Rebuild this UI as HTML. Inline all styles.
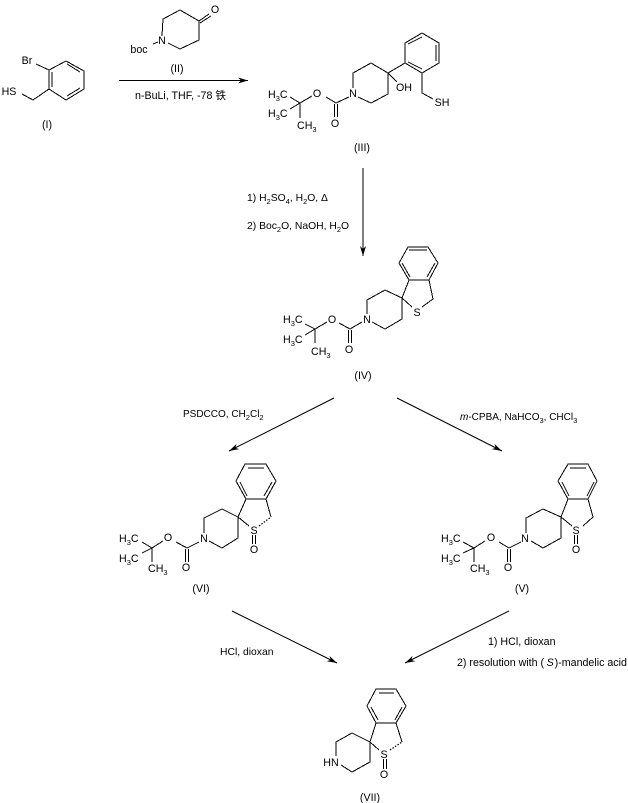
<!DOCTYPE html>
<html><head><meta charset="utf-8"><style>
html,body{margin:0;padding:0;background:#fff}
svg{display:block}
text{font-family:"Liberation Sans","Noto Sans CJK SC",sans-serif;font-size:10.67px;fill:#000}
.m{text-anchor:middle}
.s{font-size:7.5px}
.r{font-size:10.35px}
.q{font-size:10px}
.b{fill:none;stroke:#000;stroke-width:1;shape-rendering:crispEdges}
.a{stroke:#000;stroke-width:1;fill:none}
</style></head><body>
<svg width="628" height="803" viewBox="0 0 628 803" xmlns="http://www.w3.org/2000/svg">
<defs><marker id="h" markerUnits="userSpaceOnUse" markerWidth="11" markerHeight="7" refX="10" refY="3" orient="auto" viewBox="0 0 11 6"><path d="M10,3 L0,0 L3,3 L0,6 Z" fill="#000"/></marker></defs>

<!-- I -->
<path class="b" d="M66,61 L84,71 L84,89 L66,100 L49,89 L49,70 Z M52,72 L52,87 M67,64 L80,72 M67,96 L80,88 M36,64 L49,70 M49,89 L33,100 L22,94"/>
<text class="m" x="27" y="64">Br</text><text class="m" x="9" y="95">HS</text><text class="m" x="47" y="128">(I)</text>

<!-- II -->
<path class="b" d="M162,36 L163,19 L180,10 L199,21 L199,40 L180,49 L168,43 M153,44 L158,42 M199,21 L209,14 M200,23 L211,16"/>
<text class="m" x="162" y="44">N</text><text class="m" x="215" y="13">O</text><text class="m" x="139" y="53">boc</text><text class="m" x="177" y="72">(II)</text>

<!-- arrow 1 -->
<line class="a" x1="119" y1="80.5" x2="248" y2="80.5" marker-end="url(#h)"/>
<text x="135" y="99">n-BuLi, THF, -78 铁</text>

<!-- III -->
<path class="b" d="M422,33 L439,43 L439,63 L422,73 L405,63 L405,43 Z M408,44 L422,37 M436,45 L436,61 M408,62 L422,69 M388,73 L405,63 M388,73 L371,63 L353,73 L353,88 M358,97 L371,103 L388,94 L388,73 M388,73 L397,82 M422,73 L422,93 L433,99 M336,103 L349,97 M334.5,104 L334.5,117 M337.5,104 L337.5,117 M336,103 L326,97 M312,96 L300,103 L290,97 M300,103 L290,109 M300,103 L300,118"/>
<text class="m" x="353" y="97">N</text><text class="m" x="404" y="91">OH</text><text class="m" x="442" y="106">SH</text><text class="m" x="317" y="97">O</text><text class="m" x="335" y="127">O</text>
<text x="268" y="98">H<tspan class="s" dy="3">3</tspan><tspan dy="-3">C</tspan></text>
<text x="268" y="117">H<tspan class="s" dy="3">3</tspan><tspan dy="-3">C</tspan></text>
<text x="297" y="129">CH<tspan class="s" dy="3">3</tspan></text>
<text class="m" x="362" y="151">(III)</text>

<!-- arrow 2 -->
<line class="a" x1="363" y1="168" x2="363" y2="256" marker-end="url(#h)"/>
<text class="r" x="247" y="201">1) H<tspan class="s" dy="3">2</tspan><tspan dy="-3">SO</tspan><tspan class="s" dy="3">4</tspan><tspan dy="-3">, H</tspan><tspan class="s" dy="3">2</tspan><tspan dy="-3">O, Δ</tspan></text>
<text class="r" x="247" y="229">2) Boc<tspan class="s" dy="3">2</tspan><tspan dy="-3">O, NaOH, H</tspan><tspan class="s" dy="3">2</tspan><tspan dy="-3">O</tspan></text>

<!-- IV -->
<path class="b" d="M408,247 L428,247 L438,263 L429,280 L409,280 L399,263 Z M409,250 L427,250 M402,263 L410,277 M435,263 L427,277 M409,280 L402,298 L385,290 L367,300 L367,314 M372,322 L385,329 L402,319 L402,298 M402,298 L412,307 M429,280 L433,299 L422,307 M350,329 L362,322 M348.5,330 L348.5,343 M351.5,330 L351.5,343 M350,329 L339,323 M327,322 L315,329 L305,324 M315,329 L305,335 M315,329 L315,343"/>
<text class="m" x="367" y="323">N</text><text class="m" x="417" y="316">S</text><text class="m" x="332" y="323">O</text><text class="m" x="349" y="353">O</text>
<text x="283" y="323">H<tspan class="s" dy="3">3</tspan><tspan dy="-3">C</tspan></text>
<text x="283" y="343">H<tspan class="s" dy="3">3</tspan><tspan dy="-3">C</tspan></text>
<text x="311" y="355">CH<tspan class="s" dy="3">3</tspan></text>
<text class="m" x="363" y="379">(IV)</text>

<!-- arrows 3,4 -->
<line class="a" x1="334" y1="398" x2="229" y2="451" marker-end="url(#h)"/>
<line class="a" x1="397" y1="398" x2="502" y2="451" marker-end="url(#h)"/>
<text class="q" x="183" y="417">PSDCCO, CH<tspan class="s" dy="3">2</tspan><tspan dy="-3">Cl</tspan><tspan class="s" dy="3">2</tspan></text>
<text class="q" x="460" y="420"><tspan font-style="italic">m</tspan>-CPBA, NaHCO<tspan class="s" dy="3">3</tspan><tspan dy="-3">, CHCl</tspan><tspan class="s" dy="3">3</tspan></text>

<!-- VI -->
<path class="b" d="M245,464 L266,464 L276,481 L266,499 L246,499 L236,481 Z M248,468 L264,468 M240,482 L247,496 M272,482 L264,496 M246,499 L238,517 L222,509 L204,518 L204,533 M209,541 L222,548 L238,538 L238,517 M238,517 L249,526 M266,499 L271,517 M252.5,535 L252.5,544 M255.5,535 L255.5,544 M187,548 L199,542 M185.5,549 L185.5,562 M188.5,549 L188.5,562 M187,548 L176,542 M163,541 L152,548 L142,542 M152,548 L142,553 M152,548 L152,562"/>
<line x1="259" y1="526" x2="271" y2="517" stroke="#000" stroke-width="1.2" stroke-dasharray="1.5 1.5"/>
<text class="m" x="204" y="542">N</text><text class="m" x="254" y="534">S</text><text class="m" x="254" y="553">O</text><text class="m" x="168" y="541">O</text><text class="m" x="186" y="571">O</text>
<text x="119" y="542">H<tspan class="s" dy="3">3</tspan><tspan dy="-3">C</tspan></text>
<text x="119" y="562">H<tspan class="s" dy="3">3</tspan><tspan dy="-3">C</tspan></text>
<text x="148" y="572">CH<tspan class="s" dy="3">3</tspan></text>
<text class="m" x="201" y="592">(VI)</text>

<!-- V -->
<path class="b" d="M568,464 L588,464 L597,481 L588,499 L568,499 L558,481 Z M570,468 L586,468 M562,482 L569,496 M594,482 L587,496 M568,499 L561,517 L543,509 L526,518 L526,533 M531,541 L543,548 L561,538 L561,517 M561,517 L572,526 M588,499 L593,517 L583,526 M574.5,535 L574.5,544 M577.5,535 L577.5,544 M509,548 L521,542 M507.5,549 L507.5,562 M510.5,549 L510.5,562 M509,548 L499,542 M485,541 L474,548 L463,542 M474,548 L463,553 M474,548 L474,562"/>
<text class="m" x="525" y="542">N</text><text class="m" x="576" y="534">S</text><text class="m" x="576" y="553">O</text><text class="m" x="491" y="541">O</text><text class="m" x="508" y="571">O</text>
<text x="441" y="542">H<tspan class="s" dy="3">3</tspan><tspan dy="-3">C</tspan></text>
<text x="441" y="562">H<tspan class="s" dy="3">3</tspan><tspan dy="-3">C</tspan></text>
<text x="470" y="572">CH<tspan class="s" dy="3">3</tspan></text>
<text class="m" x="522" y="592">(V)</text>

<!-- arrows 5,6 -->
<line class="a" x1="232" y1="611" x2="337" y2="663" marker-end="url(#h)"/>
<line class="a" x1="509" y1="611" x2="405" y2="663" marker-end="url(#h)"/>
<text class="r" x="220" y="655">HCl, dioxan</text>
<text x="488" y="645">1) HCl, dioxan</text>
<text x="457" y="666">2) resolution with (<tspan dx="2.5" font-style="italic">S</tspan><tspan dx="1">)-mandelic acid</tspan></text>

<!-- VII -->
<path class="b" d="M376,689 L396,689 L406,706 L396,723 L376,723 L367,706 Z M379,693 L394,693 M371,707 L378,720 M402,707 L395,720 M376,723 L370,742 L352,733 L336,742 L336,756 M341,765 L352,772 L370,762 L370,742 M370,742 L379,750 M396,723 L402,742 M383.5,759 L383.5,769 M386.5,759 L386.5,769"/>
<line x1="390" y1="750" x2="402" y2="742" stroke="#000" stroke-width="1.2" stroke-dasharray="1.5 1.5"/>
<text class="m" x="331" y="766">HN</text><text class="m" x="384" y="758">S</text><text class="m" x="384" y="778">O</text>
<text class="m" x="370" y="801">(VII)</text>
</svg>
</body></html>
